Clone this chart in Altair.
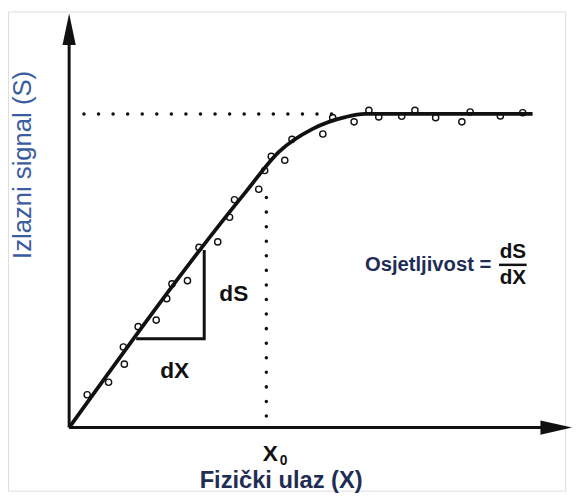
import altair as alt
import pandas as pd

# ---- data (units: x0 = 4, saturation level = 8) ----
curve_x = [0.0, 3.6, 4.26, 4.94, 5.6, 6.0, 9.4]
curve_y = [0.0, 6.04, 7.04, 7.62, 7.92, 8.0, 8.0]

pts_x = [0.366, 0.8, 1.12, 1.1, 1.4, 1.766, 1.98, 2.086, 2.4, 2.634, 3.014, 3.254,
         3.354, 3.846, 3.966, 4.1, 4.374, 4.52, 5.146, 5.346, 5.78, 6.08, 6.28,
         6.746, 7.014, 7.434, 7.966, 8.134, 8.746, 9.2]
pts_y = [0.838, 1.157, 1.618, 2.055, 2.574, 2.742, 3.288, 3.665, 3.748, 4.596, 4.737,
         5.366, 5.811, 6.08, 6.558, 6.918, 6.818, 7.353, 7.489, 7.907, 7.799, 8.093,
         7.925, 7.942, 8.093, 7.907, 7.799, 8.05, 7.95, 8.033]

x0 = 4.0
s_max = 8.0
tri_x = [1.36, 2.74, 2.74]
tri_y = [2.264, 2.264, 4.528]

y_label = "Izlazni signal (S)"
x_label = "Fizički ulaz (X)"

XD = [-1.24, 10.06]
YD = [-1.61, 10.616]
xs = alt.Scale(domain=XD, nice=False, zero=False)
ys = alt.Scale(domain=YD, nice=False, zero=False)

def X(f="x"):
    return alt.X(f, type="quantitative", scale=xs, axis=None)

def Y(f="y"):
    return alt.Y(f, type="quantitative", scale=ys, axis=None)

INK = "#111111"
NAVY = "#1f2d55"
BLUE = "#3a5ca0"

# axes lines
axes_df = pd.DataFrame({"x": [0.0, 0.0], "y": [0.0, 0.0], "x2": [0.0, 9.6], "y2": [9.8, 0.0]})
axes = alt.Chart(axes_df).mark_rule(color=INK, strokeWidth=3).encode(
    x=X(), y=Y(), x2="x2:Q", y2="y2:Q")

arrow_up = alt.Chart(pd.DataFrame({"x": [0.0], "y": [10.164]})).mark_point(
    shape="M0,-1L0.42,1L-0.42,1Z", size=1024, filled=True, color=INK, opacity=1, strokeWidth=0
).encode(x=X(), y=Y())
arrow_right = alt.Chart(pd.DataFrame({"x": [9.88], "y": [0.0]})).mark_point(
    shape="M1,0L-1,0.45L-1,-0.45Z", size=1024, filled=True, color=INK, opacity=1, strokeWidth=0
).encode(x=X(), y=Y())

# dotted guides
hdot = alt.Chart(pd.DataFrame({"x": [0.3], "x2": [5.5], "y": [s_max]})).mark_rule(
    color=INK, strokeWidth=3.5, strokeDash=[0.1, 14.67], strokeCap="round"
).encode(x=X(), x2="x2:Q", y=Y())
vdot = alt.Chart(pd.DataFrame({"x": [x0], "y": [0.294], "y2": [6.19]})).mark_rule(
    color=INK, strokeWidth=3.5, strokeDash=[0.1, 14.67], strokeCap="round"
).encode(x=X(), y=Y(), y2="y2:Q")

# curve
curve = alt.Chart(pd.DataFrame({"x": curve_x, "y": curve_y})).mark_line(
    color=INK, strokeWidth=3.8, interpolate="monotone"
).encode(x=X(), y=Y(), order="x:Q")

pts = alt.Chart(pd.DataFrame({"x": pts_x, "y": pts_y})).mark_point(
    shape="circle", size=40, color=INK, strokeWidth=1.4, filled=False, opacity=1
).encode(x=X(), y=Y())

tri = alt.Chart(pd.DataFrame({"x": tri_x, "y": tri_y, "o": [0, 1, 2]})).mark_line(
    color=INK, strokeWidth=3
).encode(x=X(), y=Y(), order="o:Q")

def label(txt, x, y, size, color, bold=True, angle=0, align="center"):
    return alt.Chart(pd.DataFrame({"x": [x], "y": [y], "t": [txt]})).mark_text(
        font="Liberation Sans", fontSize=size, fontWeight="bold" if bold else "normal",
        color=color, angle=angle, align=align, baseline="middle"
    ).encode(x=X(), y=Y(), text="t:N")

texts = [
    label(y_label, -0.94, 6.7, 26, BLUE, bold=False, angle=270),
    label(x_label, 4.3, -1.358, 24, NAVY),
    label("X", 4.08, -0.679, 23, INK),
    label("0", 4.35, -0.86, 14, INK),
    label("dS", 3.34, 3.396, 23, INK),
    label("dX", 2.14, 1.434, 23, INK),
    label("Osjetljivost =", 6.0, 4.151, 20.5, NAVY, align="left"),
    label("dS", 9.0, 4.47, 21, INK),
    label("dX", 9.0, 3.81, 21, INK),
]
frac = alt.Chart(pd.DataFrame({"x": [8.72], "x2": [9.28], "y": [4.151]})).mark_rule(
    color=INK, strokeWidth=2.5
).encode(x=X(), x2="x2:Q", y=Y())

chart = alt.layer(axes, arrow_up, arrow_right, hdot, vdot, curve, pts, tri, frac, *texts).properties(
    width=565, height=486, autosize=alt.AutoSizeParams(type="none"),
    padding={"left": 0, "top": 0, "right": 8, "bottom": 8}
).configure_view(stroke=None).configure(background="white")

chart.save("out.html", embed_options={"renderer": "svg", "actions": False})
